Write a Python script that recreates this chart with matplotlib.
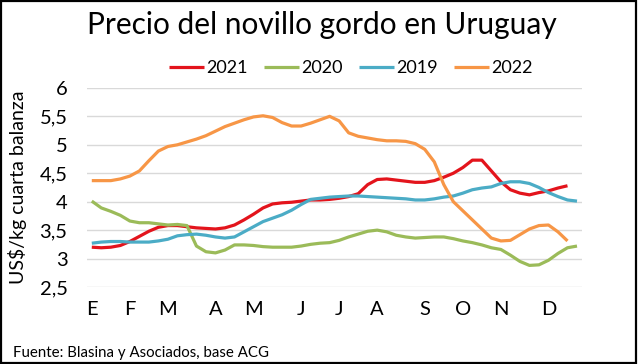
import matplotlib.pyplot as plt
from matplotlib.patches import Rectangle

# precio semanal US$/kg cuarta balanza
semanas = list(range(52))
p2021 = [3.20, 3.19, 3.20, 3.23, 3.30, 3.39, 3.48, 3.55, 3.58, 3.58, 3.56, 3.54, 3.53,
         3.52, 3.54, 3.59, 3.68, 3.78, 3.89, 3.96, 3.98, 3.99, 4.01, 4.03, 4.03, 4.04,
         4.06, 4.09, 4.14, 4.30, 4.39, 4.40, 4.38, 4.36, 4.34, 4.34, 4.37, 4.43, 4.50,
         4.60, 4.73, 4.73, 4.54, 4.35, 4.21, 4.15, 4.12, 4.16, 4.19, 4.24, 4.28]
p2020 = [4.01, 3.89, 3.83, 3.76, 3.66, 3.63, 3.63, 3.61, 3.59, 3.60, 3.58, 3.22, 3.12,
         3.10, 3.15, 3.24, 3.24, 3.23, 3.21, 3.20, 3.20, 3.20, 3.22, 3.25, 3.27, 3.28,
         3.32, 3.38, 3.43, 3.48, 3.50, 3.47, 3.41, 3.38, 3.36, 3.37, 3.38, 3.38, 3.35,
         3.31, 3.28, 3.24, 3.19, 3.16, 3.06, 2.95, 2.88, 2.89, 2.97, 3.09, 3.19, 3.22]
p2019 = [3.27, 3.29, 3.30, 3.30, 3.29, 3.29, 3.29, 3.31, 3.34, 3.40, 3.42, 3.43, 3.41,
         3.38, 3.36, 3.38, 3.47, 3.56, 3.65, 3.71, 3.77, 3.85, 3.95, 4.04, 4.06, 4.08,
         4.09, 4.10, 4.10, 4.09, 4.08, 4.07, 4.06, 4.05, 4.03, 4.03, 4.05, 4.08, 4.10,
         4.15, 4.21, 4.24, 4.26, 4.32, 4.35, 4.35, 4.32, 4.25, 4.16, 4.09, 4.03, 4.01]
p2022 = [4.37, 4.37, 4.37, 4.40, 4.45, 4.54, 4.72, 4.89, 4.97, 5.00, 5.05, 5.10, 5.16,
         5.24, 5.32, 5.38, 5.44, 5.49, 5.51, 5.48, 5.39, 5.33, 5.33, 5.38, 5.44, 5.50,
         5.42, 5.21, 5.15, 5.12, 5.09, 5.07, 5.07, 5.06, 5.02, 4.92, 4.70, 4.30, 4.00,
         3.84, 3.68, 3.52, 3.36, 3.31, 3.32, 3.42, 3.52, 3.58, 3.59, 3.47, 3.31]

meses_pos = [0, 4, 8, 13, 17, 22, 26, 30, 35, 39, 43, 48]
meses = ["E", "F", "M", "A", "M", "J", "J", "A", "S", "O", "N", "D"]
y_ticks = [2.5, 3, 3.5, 4, 4.5, 5, 5.5, 6]
y_labels = ["2,5", "3", "3,5", "4", "4,5", "5", "5,5", "6"]

plt.rcParams["font.family"] = ["Lato", "DejaVu Sans"]

fig = plt.figure(figsize=(6.4, 3.64), dpi=100)
ax = fig.add_axes([0.136, 0.2115, 0.773, 0.547])

series = [("2021", p2021, "#E3141C"), ("2020", p2020, "#9BBB59"),
          ("2019", p2019, "#4BACC6"), ("2022", p2022, "#F79646")]
for nombre, vals, col in series:
    ax.plot(semanas[:len(vals)], vals, color=col, lw=2.3, label=nombre,
            solid_capstyle="butt")

ax.set_xlim(-0.5, 51.5)
ax.set_ylim(2.5, 6)
ax.set_yticks(y_ticks)
ax.set_yticklabels(y_labels)
ax.set_xticks(meses_pos)
ax.set_xticklabels(meses)
ax.tick_params(length=0, labelsize=14.5, pad=10)
ax.tick_params(axis="y", pad=14)
ax.grid(axis="y", color="#D9D9D9", lw=1)
ax.set_axisbelow(True)
for s in ax.spines.values():
    s.set_visible(False)
ax.set_ylabel("US$/kg cuarta balanza", fontsize=14)
ax.yaxis.set_label_coords(-0.122, 0.5)

fig.text(0.503, 0.93, "Precio del novillo gordo en Uruguay", ha="center", va="center",
         fontsize=21.5)
fig.legend(loc="center", bbox_to_anchor=(0.548, 0.813), ncol=4, frameon=False,
           fontsize=13, handlelength=1.95, handletextpad=0.12, columnspacing=0.9)
fig.text(0.02, 0.03, "Fuente: Blasina y Asociados, base ACG", fontsize=10.8,
         ha="left", va="center")

fig.patches.append(Rectangle((0.002, 0.003), 0.992, 0.994, transform=fig.transFigure,
                             fill=False, edgecolor="black", lw=1.6))

fig.savefig("out.png", dpi=100)
